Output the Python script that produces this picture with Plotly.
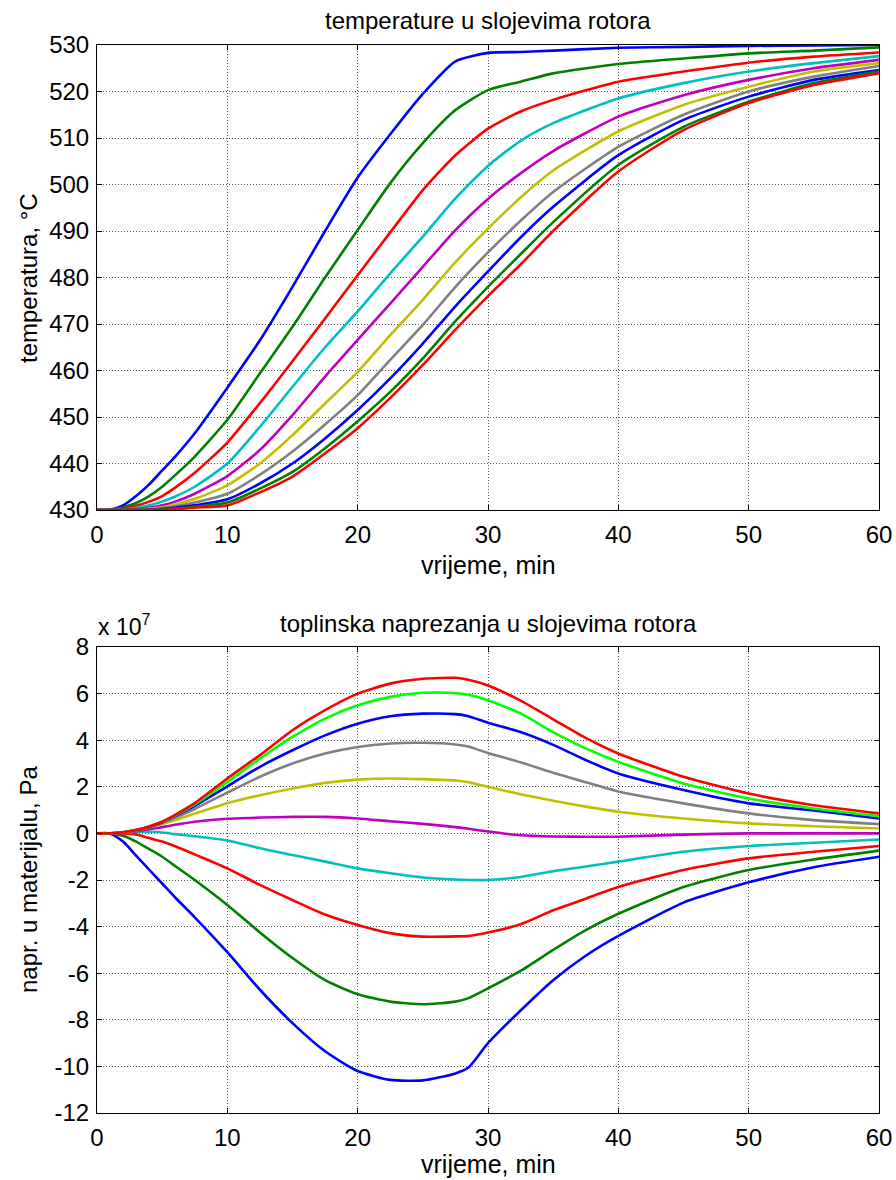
import plotly.graph_objects as go

# ---------------- data: temperatures (°C) ----------------
t_temp = [0, 1, 2, 3, 4, 5, 6, 7.5, 10, 12.5, 15, 17.5, 20, 22.5, 25, 27.5, 30, 32.5, 35, 40, 45, 50, 55, 60]

temp_blue1 = [430, 430.1, 431, 433, 435.5, 438.5, 441.5, 446.5, 456.3, 466.5, 478, 490, 501.5, 510.8, 519.5, 526.5, 528.3, 528.5, 528.8, 529.4, 529.6, 529.8, 529.9, 530]
temp_green1 = [430, 430, 430.6, 431.5, 433, 435, 437.5, 441.5, 449.4, 459.4, 469.4, 480, 490.2, 500.3, 508.9, 516.0, 520.3, 522.1, 523.9, 525.9, 527.1, 528.2, 528.8, 529.5]
temp_red1 = [430, 430, 430.3, 430.9, 431.8, 433, 434.8, 438, 444.5, 453, 462, 471.2, 480.5, 489.7, 498.8, 506.3, 512.0, 515.7, 518.2, 522.1, 524.3, 526.2, 527.5, 528.4]
temp_cyan = [430, 430, 430.1, 430.5, 431, 431.8, 432.9, 435, 440, 447.9, 456.5, 465, 472.7, 480.9, 488.8, 497.0, 504.0, 509.4, 513.2, 518.5, 521.8, 524.3, 526.1, 527.6]
temp_magenta = [430, 430, 430, 430.2, 430.5, 431, 431.8, 433.5, 437.3, 442.9, 450.4, 458.7, 466.6, 474.4, 482.3, 490.2, 496.9, 502.4, 507.2, 514.6, 519.2, 522.5, 525, 526.8]
temp_yellow = [430, 430, 430, 430, 430.3, 430.6, 431.2, 432.4, 435.3, 440, 446.1, 452.9, 459.7, 467.6, 475.2, 483.3, 490.5, 497.2, 503.0, 511.4, 517.1, 521, 524.3, 526.1]
temp_gray = [430, 430, 430, 430, 430.1, 430.4, 430.8, 431.6, 433.5, 437.6, 442.6, 448.4, 454.7, 462.3, 469.8, 478.0, 485.4, 492.2, 498.4, 508.1, 515, 520, 523.2, 525.5]
temp_blue2 = [430, 430, 430, 430, 430.05, 430.2, 430.5, 431, 432.3, 435.7, 440, 445.4, 451.5, 458.3, 465.8, 473.8, 481.3, 488.6, 495.2, 506.3, 513.9, 518.9, 522.5, 524.6]
temp_green2 = [430, 430, 430, 430, 430, 430.1, 430.3, 430.7, 431.6, 434.6, 438.2, 443.3, 449.1, 455.4, 462.6, 470.6, 478.0, 485.0, 491.9, 504.2, 512.4, 517.8, 521.8, 524.3]
temp_red2 = [430, 430, 430, 430, 430, 430, 430.2, 430.5, 431, 433.8, 437.2, 442.2, 447.6, 454.1, 461.2, 468.8, 476.0, 482.8, 490.0, 502.8, 511.7, 517.5, 521.4, 523.9]

# ---------------- data: thermal stresses (x 1e7 Pa) ----------------
t_str = [0, 1, 2, 3, 4, 5, 6, 7.5, 10, 12.5, 15, 17.5, 20, 22.5, 25, 27.5, 28.5, 30, 32.5, 35, 37.5, 40, 45, 50, 55, 60]

str_blue1 = [0, 0, -0.35, -0.95, -1.55, -2.15, -2.75, -3.6, -5.1, -6.71, -8.14, -9.35, -10.2, -10.58, -10.6, -10.3, -10.05, -9.0, -7.6, -6.3, -5.25, -4.4, -2.97, -2.1, -1.45, -1.0]
str_green1 = [0, 0, -0.1, -0.35, -0.67, -1.0, -1.4, -2.0, -3.07, -4.25, -5.35, -6.3, -6.9, -7.22, -7.33, -7.22, -7.07, -6.65, -5.9, -5.0, -4.15, -3.45, -2.3, -1.57, -1.12, -0.74]
str_red1 = [0, 0, 0, -0.05, -0.2, -0.35, -0.55, -0.9, -1.5, -2.21, -2.86, -3.48, -3.93, -4.28, -4.43, -4.42, -4.4, -4.25, -3.9, -3.3, -2.8, -2.3, -1.57, -1.07, -0.79, -0.54]
str_cyan = [0, 0, 0.03, 0.07, 0.07, 0.04, -0.03, -0.12, -0.3, -0.64, -0.93, -1.21, -1.5, -1.71, -1.89, -1.98, -2.0, -2.0, -1.87, -1.62, -1.42, -1.21, -0.79, -0.54, -0.4, -0.26]
str_magenta = [0, 0, 0.05, 0.1, 0.18, 0.27, 0.37, 0.5, 0.63, 0.68, 0.71, 0.71, 0.64, 0.52, 0.41, 0.27, 0.2, 0.08, -0.08, -0.13, -0.14, -0.14, -0.05, 0, 0, 0]
str_yellow = [0, 0, 0.05, 0.13, 0.25, 0.4, 0.58, 0.85, 1.3, 1.64, 1.93, 2.17, 2.31, 2.36, 2.33, 2.27, 2.2, 2.0, 1.68, 1.4, 1.15, 0.93, 0.64, 0.43, 0.31, 0.21]
str_gray = [0, 0, 0.05, 0.14, 0.27, 0.45, 0.68, 1.05, 1.75, 2.43, 3.0, 3.43, 3.71, 3.86, 3.89, 3.82, 3.73, 3.45, 3.05, 2.6, 2.2, 1.8, 1.29, 0.86, 0.57, 0.4]
str_blue2 = [0, 0, 0.05, 0.15, 0.28, 0.48, 0.75, 1.18, 2.02, 2.86, 3.57, 4.21, 4.71, 5.03, 5.14, 5.12, 5.03, 4.75, 4.35, 3.8, 3.15, 2.57, 1.86, 1.29, 0.98, 0.64]
str_lime = [0, 0, 0.05, 0.15, 0.3, 0.5, 0.78, 1.25, 2.21, 3.21, 4.14, 4.93, 5.5, 5.86, 6.04, 6.03, 5.95, 5.72, 5.15, 4.35, 3.65, 3.07, 2.14, 1.5, 1.07, 0.74]
str_red2 = [0, 0, 0.05, 0.15, 0.3, 0.5, 0.8, 1.3, 2.36, 3.36, 4.43, 5.29, 6.0, 6.43, 6.64, 6.68, 6.6, 6.35, 5.7, 4.9, 4.1, 3.43, 2.43, 1.71, 1.21, 0.86]

temp_series = [
    (temp_blue1, "#0000FF"), (temp_green1, "#008000"), (temp_red1, "#FF0000"),
    (temp_cyan, "#00BFBF"), (temp_magenta, "#BF00BF"), (temp_yellow, "#BFBF00"),
    (temp_gray, "#808080"), (temp_blue2, "#0000FF"), (temp_green2, "#008000"),
    (temp_red2, "#FF0000"),
]
str_series = [
    (str_blue1, "#0000FF"), (str_green1, "#008000"), (str_red1, "#FF0000"),
    (str_cyan, "#00BFBF"), (str_magenta, "#BF00BF"), (str_yellow, "#BFBF00"),
    (str_gray, "#808080"), (str_blue2, "#0000FF"), (str_lime, "#00FF00"),
    (str_red2, "#FF0000"),
]

x_ticks = [0, 10, 20, 30, 40, 50, 60]
temp_ticks = [430, 440, 450, 460, 470, 480, 490, 500, 510, 520, 530]
str_ticks = [-12, -10, -8, -6, -4, -2, 0, 2, 4, 6, 8]

FONT = "Liberation Sans, Arial, sans-serif"

fig = go.Figure()
for vals, col in temp_series:
    fig.add_trace(go.Scatter(x=t_temp, y=vals, mode="lines", xaxis="x", yaxis="y",
                             line=dict(color=col, width=2.6, shape="spline", smoothing=0.6),
                             showlegend=False, hoverinfo="skip"))
for vals, col in str_series:
    fig.add_trace(go.Scatter(x=t_str, y=vals, mode="lines", xaxis="x2", yaxis="y2",
                             line=dict(color=col, width=2.6, shape="spline", smoothing=0.6),
                             showlegend=False, hoverinfo="skip"))

ax_common = dict(showline=True, linecolor="black", linewidth=1, mirror="ticks",
                 ticks="inside", ticklen=5, tickcolor="black", automargin=False,
                 showgrid=True, gridcolor="rgba(0,0,0,0.65)", griddash="1px,2px", gridwidth=1,
                 zeroline=False, tickfont=dict(family=FONT, size=24, color="black"))

# plot area in pixels: x 97..879, y 45..1113 (paper height 1068)
def py(px):
    return (1113 - px) / 1068.0

def pxx(px):
    return (px - 97) / 782.0

fig.update_layout(
    width=896, height=1180,
    margin=dict(l=97, r=17, t=45, b=67),
    paper_bgcolor="white", plot_bgcolor="white",
    font=dict(family=FONT, color="black"),
    xaxis=dict(domain=[0, 1], anchor="y", range=[0, 60], tickvals=x_ticks,
               ticklabelstandoff=3, **ax_common),
    yaxis=dict(domain=[0.5646, 1], anchor="x", range=[430, 530], tickvals=temp_ticks,
               ticklabelstandoff=2, **ax_common),
    xaxis2=dict(domain=[0, 1], anchor="y2", range=[0, 60], tickvals=x_ticks,
                ticklabelstandoff=3, **ax_common),
    yaxis2=dict(domain=[0, 0.4363], anchor="x2", range=[-12, 8], tickvals=str_ticks,
                ticktext=[str(v) for v in str_ticks], ticklabelstandoff=2, **ax_common),
    annotations=[
        dict(text="temperature u slojevima rotora", xref="paper", yref="paper",
             x=0.5, y=py(21), xanchor="center", yanchor="middle", showarrow=False,
             font=dict(family=FONT, size=24)),
        dict(text="vrijeme, min", xref="paper", yref="paper",
             x=0.5, y=py(565), xanchor="center", yanchor="middle", showarrow=False,
             font=dict(family=FONT, size=25)),
        dict(text="temperatura, °C", xref="paper", yref="paper", textangle=-90,
             x=pxx(28), y=py(278), xanchor="center", yanchor="middle", showarrow=False,
             font=dict(family=FONT, size=24)),
        dict(text="toplinska naprezanja u slojevima rotora", xref="paper", yref="paper",
             x=0.5, y=py(623), xanchor="center", yanchor="middle", showarrow=False,
             font=dict(family=FONT, size=24)),
        dict(text="x 10<sup>7</sup>", xref="paper", yref="paper",
             x=pxx(96), y=py(625), xanchor="left", yanchor="middle", showarrow=False,
             font=dict(family=FONT, size=23)),
        dict(text="vrijeme, min", xref="paper", yref="paper",
             x=0.5, y=py(1164), xanchor="center", yanchor="middle", showarrow=False,
             font=dict(family=FONT, size=25)),
        dict(text="napr. u materijalu, Pa", xref="paper", yref="paper", textangle=-90,
             x=pxx(28), y=py(880), xanchor="center", yanchor="middle", showarrow=False,
             font=dict(family=FONT, size=24)),
    ],
)

fig.write_html("out.html", config={"displayModeBar": False},
               post_script="document.body.style.margin='0px';")
